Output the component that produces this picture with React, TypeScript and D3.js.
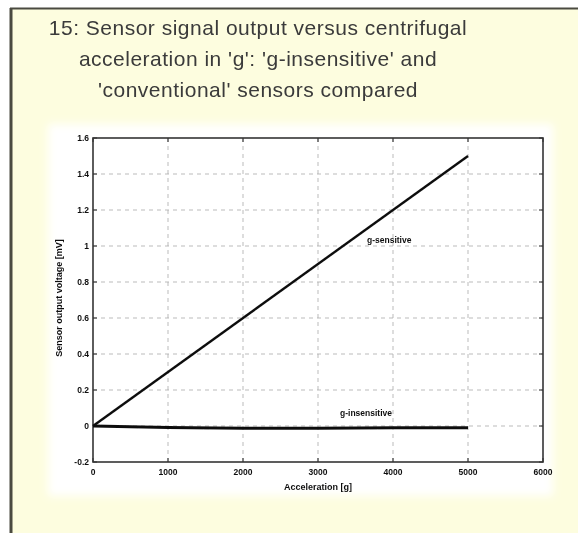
import React from "react";
import * as d3 from "d3";

const titleLines = [
  "15: Sensor signal output versus centrifugal",
  "acceleration in 'g': 'g-insensitive' and",
  "'conventional' sensors compared",
];
const xTicks = [0, 1000, 2000, 3000, 4000, 5000, 6000];
const yTicks = [-0.2, 0, 0.2, 0.4, 0.6, 0.8, 1, 1.2, 1.4, 1.6];
const sensitiveX = [0, 5000];
const sensitiveY = [0, 1.5];
const insensitiveX = [0, 1000, 2000, 3000, 4000, 5000];
const insensitiveY = [0, -0.008, -0.013, -0.012, -0.01, -0.01];
const xLabel = "Acceleration [g]";
const yLabel = "Sensor output voltage [mV]";
const sensitiveLabel = "g-sensitive";
const insensitiveLabel = "g-insensitive";

export default function App() {
  const W = 578, H = 533;
  const x = d3.scaleLinear().domain([0, 6000]).range([93, 543]);
  const y = d3.scaleLinear().domain([-0.2, 1.6]).range([462, 138]);
  const line = d3.line<[number, number]>().x(d => x(d[0])).y(d => y(d[1]));
  const sens = sensitiveX.map((v, i) => [v, sensitiveY[i]] as [number, number]);
  const insens = insensitiveX.map((v, i) => [v, insensitiveY[i]] as [number, number]);
  const fmtY = (v: number) => (v === 0 ? "0" : String(+v.toFixed(1)));
  const x0 = x.range()[0], x1 = x.range()[1], y0 = y.range()[0], y1 = y.range()[1];
  return (
    <svg width={W} height={H} style={{ position: "absolute", left: 0, top: 0 }}>
      <defs>
        <filter id="scan" x="-5%" y="-5%" width="110%" height="110%">
          <feGaussianBlur stdDeviation="0.55" />
        </filter>
        <filter id="soft" x="-5%" y="-5%" width="110%" height="110%">
          <feGaussianBlur stdDeviation="4" />
        </filter>
      </defs>
      <rect x={0} y={0} width={W} height={H} fill="#ffffff" />
      <rect x={10} y={8} width={W - 10} height={H - 8} fill="#fdfddf" />
      <rect x={48} y={124} width={505} height={372} fill="#ffffff" filter="url(#soft)" />
      <line x1={10} y1={8.5} x2={W} y2={8.5} stroke="#4a4a40" strokeWidth={2} />
      <line x1={11} y1={8} x2={11} y2={H} stroke="#4a4a40" strokeWidth={3} />
      <g fontFamily="Liberation Sans, Arial, sans-serif" fill="#3a3a3a" fontSize={21} letterSpacing={0.5} textAnchor="middle" filter="url(#scan)">
        {titleLines.map((t, i) => (
          <text key={i} x={258} y={35 + i * 31} style={{ whiteSpace: "pre" }}>{t}</text>
        ))}
      </g>
      <g filter="url(#scan)">
        {xTicks.slice(1, -1).map(t => (
          <line key={"gx" + t} x1={x(t)} x2={x(t)} y1={y0} y2={y1} stroke="#aaa" strokeWidth={0.8} strokeDasharray="4,4" />
        ))}
        {yTicks.slice(1, -1).map(t => (
          <line key={"gy" + t} x1={x0} x2={x1} y1={y(t)} y2={y(t)} stroke="#aaa" strokeWidth={0.8} strokeDasharray="4,4" />
        ))}
        {xTicks.map(t => (
          <g key={"tx" + t}>
            <line x1={x(t)} x2={x(t)} y1={y0} y2={y0 - 4} stroke="#222" strokeWidth={1} />
            <line x1={x(t)} x2={x(t)} y1={y1} y2={y1 + 4} stroke="#222" strokeWidth={1} />
          </g>
        ))}
        {yTicks.map(t => (
          <g key={"ty" + t}>
            <line x1={x0} x2={x0 + 4} y1={y(t)} y2={y(t)} stroke="#222" strokeWidth={1} />
            <line x1={x1} x2={x1 - 4} y1={y(t)} y2={y(t)} stroke="#222" strokeWidth={1} />
          </g>
        ))}
        <rect x={x0} y={y1} width={x1 - x0} height={y0 - y1} fill="none" stroke="#333" strokeWidth={1.6} />
        <path d={line(sens) || ""} fill="none" stroke="#111" strokeWidth={2.4} />
        <path d={line(insens) || ""} fill="none" stroke="#111" strokeWidth={3} />
        <g fontFamily="Liberation Sans, Arial, sans-serif" fontWeight="bold" fontSize={8.5} fill="#111">
          {yTicks.map(t => (
            <text key={"ly" + t} x={x0 - 4} y={y(t) + 3} textAnchor="end">{fmtY(t)}</text>
          ))}
          {xTicks.map(t => (
            <text key={"lx" + t} x={x(t)} y={y0 + 13} textAnchor="middle">{t}</text>
          ))}
          <text x={318} y={490} textAnchor="middle" fontSize={9}>{xLabel}</text>
          <text transform={`translate(62,298) rotate(-90)`} textAnchor="middle" fontSize={9}>{yLabel}</text>
          <text x={367} y={243} fontSize={8.5}>{sensitiveLabel}</text>
          <text x={340} y={416} fontSize={8.5}>{insensitiveLabel}</text>
        </g>
      </g>
    </svg>
  );
}
